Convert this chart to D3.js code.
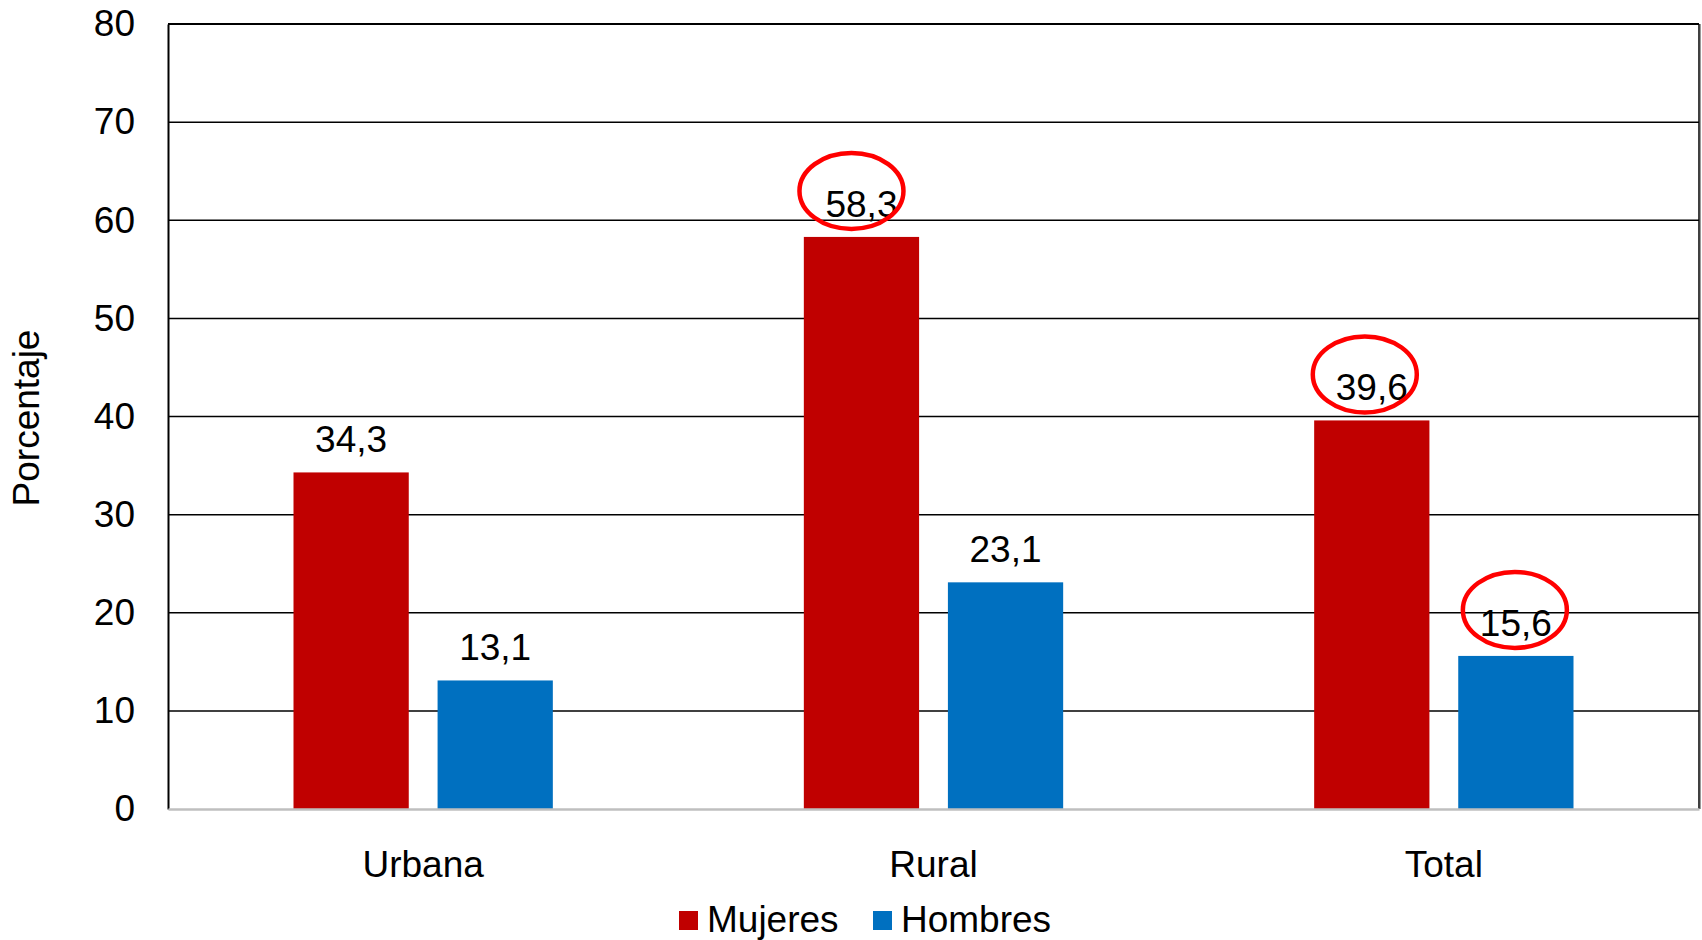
<!DOCTYPE html>
<html>
<head>
<meta charset="utf-8">
<script src="https://cdn.jsdelivr.net/npm/d3@7"></script>
<style>
  html, body { margin: 0; padding: 0; background: #fff; }
  svg { display: block; font-family: "Liberation Sans", Arial, sans-serif; }
</style>
</head>
<body>
<svg id="chart" width="1702" height="940"></svg>
<script>
// ---- data ----
const categories = ["Urbana", "Rural", "Total"];
const seriesNames = ["Mujeres", "Hombres"];
const mujeres = [34.3, 58.3, 39.6];
const hombres = [13.1, 23.1, 15.6];
const yTicks = [0, 10, 20, 30, 40, 50, 60, 70, 80];
const colors = ["#C00000", "#0070C0"];
// highlighted labels (category, series)
const highlights = [
  { cat: "Rural", series: "Mujeres", dx: -10 },
  { cat: "Total", series: "Mujeres", dx: -7 },
  { cat: "Total", series: "Hombres", dx: -1 }
];

(function () {
const values = { Mujeres: mujeres, Hombres: hombres };
const fmt = v => v.toFixed(1).replace(".", ",");
const FS = 37;

const svg = d3.select("#chart");
const mLeft = 168, mRight = 1699, mTop = 24, mBottom = 809;

const x0 = d3.scaleBand().domain(categories).range([mLeft, mRight]).padding(0);
const x1 = d3.scaleBand().domain(seriesNames)
  .range([125.5, x0.bandwidth() - 125.5]).paddingInner(0.2).paddingOuter(0);
const y = d3.scaleLinear().domain([0, 80]).range([mBottom, mTop]);

// gridlines
svg.append("g").selectAll("line").data(yTicks.filter(t => t > 0)).join("line")
  .attr("x1", mLeft).attr("x2", mRight)
  .attr("y1", d => y(d)).attr("y2", d => y(d))
  .attr("stroke", "#000").attr("stroke-width", 1.5);

// right border
svg.append("line").attr("x1", mRight).attr("x2", mRight).attr("y1", mTop).attr("y2", mBottom)
  .attr("stroke", "#000").attr("stroke-width", 1.5);
svg.append("line").attr("x1", mRight + 1.5).attr("x2", mRight + 1.5).attr("y1", mTop).attr("y2", mBottom)
  .attr("stroke", "#999").attr("stroke-width", 1);

// bars
const flat = [];
categories.forEach((c, i) => seriesNames.forEach((s, j) => flat.push({ cat: c, series: s, value: values[s][i], color: colors[j] })));

svg.append("g").selectAll("rect").data(flat).join("rect")
  .attr("x", d => x0(d.cat) + x1(d.series))
  .attr("width", x1.bandwidth())
  .attr("y", d => y(d.value))
  .attr("height", d => y(0) - y(d.value))
  .attr("fill", d => d.color);

// value labels
svg.append("g").selectAll("text").data(flat).join("text")
  .attr("x", d => x0(d.cat) + x1(d.series) + x1.bandwidth() / 2)
  .attr("y", d => y(d.value) - 20)
  .attr("text-anchor", "middle")
  .attr("font-size", FS)
  .attr("fill", "#000")
  .text(d => fmt(d.value));

// left axis
const yAxis = d3.axisLeft(y).tickValues(yTicks).tickSize(0).tickPadding(33);
const gy = svg.append("g").attr("transform", `translate(${mLeft},0)`).call(yAxis);
gy.select(".domain").attr("stroke", "#000").attr("stroke-width", 2);
gy.selectAll("text").attr("font-size", FS).attr("fill", "#000")
  .attr("font-family", "Liberation Sans, Arial, sans-serif");

// top border
svg.append("line").attr("x1", mLeft).attr("x2", mRight).attr("y1", mTop).attr("y2", mTop)
  .attr("stroke", "#000").attr("stroke-width", 2);

// bottom axis
const xAxis = d3.axisBottom(x0).tickSize(0).tickPadding(0);
const gx = svg.append("g").attr("transform", `translate(0,${mBottom})`).call(xAxis);
gx.select(".domain").attr("stroke", "#bfbfbf").attr("stroke-width", 2.5);
gx.selectAll("text").attr("font-size", FS).attr("fill", "#000")
  .attr("font-family", "Liberation Sans, Arial, sans-serif")
  .attr("dy", null).attr("y", 68);

// y label
svg.append("text")
  .attr("transform", "translate(39,418) rotate(-90)")
  .attr("text-anchor", "middle")
  .attr("font-size", FS)
  .text("Porcentaje");

// highlight ellipses
svg.append("g").selectAll("ellipse").data(highlights).join("ellipse")
  .attr("cx", d => x0(d.cat) + x1(d.series) + x1.bandwidth() / 2 + d.dx)
  .attr("cy", d => y(values[d.series][categories.indexOf(d.cat)]) - 46)
  .attr("rx", 52).attr("ry", 38)
  .attr("fill", "none").attr("stroke", "#FF0000").attr("stroke-width", 4.5);

// legend
const legendX = [679, 873];
const lg = svg.append("g").selectAll("g").data(seriesNames).join("g")
  .attr("transform", (d, i) => `translate(${legendX[i]},911)`);
lg.append("rect").attr("width", 19).attr("height", 19).attr("fill", (d, i) => colors[i]);
lg.append("text").attr("x", 28).attr("y", 21).attr("font-size", FS).text(d => d);
})();
</script>
</body>
</html>
